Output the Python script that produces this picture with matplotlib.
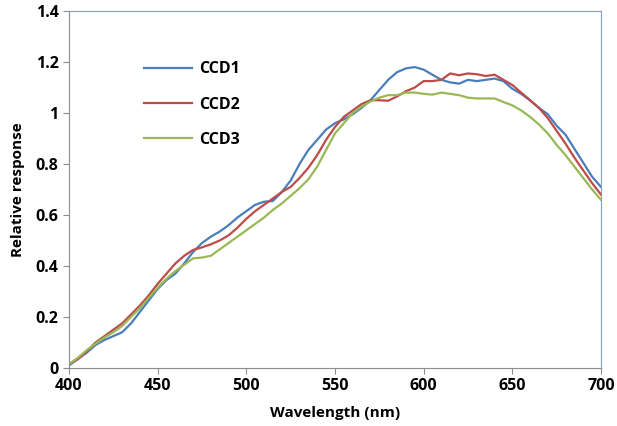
import numpy as np
import matplotlib.pyplot as plt

plt.rcParams['font.family'] = ['Open Sans', 'DejaVu Sans']

wavelength = np.arange(400, 701, 5)

ccd1 = [0.01, 0.035, 0.06, 0.09, 0.11, 0.125, 0.14, 0.175, 0.22, 0.265,
        0.31, 0.345, 0.37, 0.41, 0.455, 0.49, 0.515, 0.535, 0.56, 0.59,
        0.615, 0.64, 0.652, 0.655, 0.69, 0.735, 0.8, 0.855, 0.895, 0.935,
        0.96, 0.975, 0.995, 1.02, 1.05, 1.09, 1.13, 1.16, 1.175, 1.18,
        1.17, 1.15, 1.13, 1.12, 1.115, 1.13, 1.125, 1.13, 1.135, 1.125,
        1.095, 1.075, 1.05, 1.02, 0.995, 0.95, 0.915, 0.86, 0.805, 0.75,
        0.71]
ccd2 = [0.015, 0.035, 0.065, 0.1, 0.125, 0.15, 0.175, 0.21, 0.245, 0.285,
        0.33, 0.37, 0.41, 0.44, 0.463, 0.473, 0.485, 0.5, 0.52, 0.55,
        0.585, 0.615, 0.64, 0.665, 0.69, 0.71, 0.745, 0.785, 0.835, 0.895,
        0.945, 0.985, 1.01, 1.035, 1.05, 1.05, 1.048, 1.065, 1.085, 1.1,
        1.125, 1.125, 1.13, 1.155, 1.148, 1.155, 1.152, 1.145, 1.15, 1.13,
        1.11, 1.08, 1.05, 1.02, 0.98, 0.93, 0.88, 0.825, 0.775, 0.725,
        0.68]
ccd3 = [0.015, 0.04, 0.07, 0.095, 0.12, 0.14, 0.165, 0.2, 0.235, 0.275,
        0.315, 0.35, 0.38, 0.405, 0.43, 0.433, 0.44, 0.465, 0.49, 0.515,
        0.54, 0.565, 0.59, 0.62, 0.645, 0.675, 0.705, 0.74, 0.79, 0.855,
        0.92, 0.96, 1.0, 1.025, 1.045, 1.06, 1.07, 1.07, 1.08, 1.08,
        1.075, 1.072, 1.08, 1.075, 1.07, 1.06, 1.057, 1.057, 1.057, 1.043,
        1.03, 1.01, 0.985, 0.955, 0.92, 0.875, 0.835, 0.79, 0.745, 0.7,
        0.66]

fig = plt.figure(figsize=(6.17, 4.26), dpi=100)
ax = fig.add_axes([0.1118, 0.1362, 0.8622, 0.838])

ax.plot(wavelength, ccd1, color='#4a7ebb', lw=1.6, label='CCD1')
ax.plot(wavelength, ccd2, color='#be4b48', lw=1.6, label='CCD2')
ax.plot(wavelength, ccd3, color='#98b954', lw=1.6, label='CCD3')

ax.set_xlim(400, 700)
ax.set_ylim(0, 1.4)
ax.set_xticks(np.arange(400, 701, 50))
ax.set_yticks(np.arange(0, 1.41, 0.2))
ax.set_yticklabels(['0', '0.2', '0.4', '0.6', '0.8', '1', '1.2', '1.4'])

for s in ['left', 'bottom']:
    ax.spines[s].set_color('#8c8c8c')
for s in ['top', 'right']:
    ax.spines[s].set_color('#7f9fcf')
ax.tick_params(direction='out', length=4, color='#8c8c8c', labelsize=11.5)
for lab in ax.get_xticklabels() + ax.get_yticklabels():
    lab.set_fontweight('bold')

ax.set_xlabel('Wavelength (nm)', fontsize=11, fontweight='bold', labelpad=8)
ax.set_ylabel('Relative response', fontsize=11, fontweight='bold', labelpad=8)

leg = ax.legend(loc='upper left', bbox_to_anchor=(0.126, 0.882), frameon=False,
                borderpad=0, handlelength=3.0, handletextpad=0.45, labelspacing=1.22,
                prop={'size': 11.5, 'weight': 'bold'})

fig.savefig('out.png', dpi=100)
